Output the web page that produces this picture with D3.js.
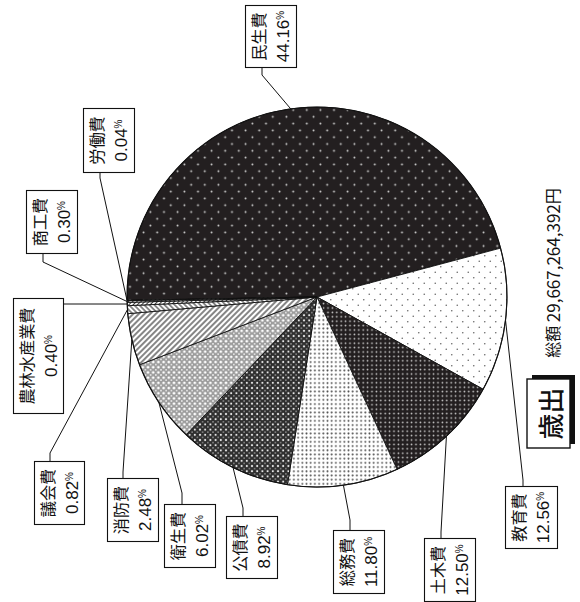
<!DOCTYPE html>
<html><head><meta charset="utf-8">
<script src="https://cdn.jsdelivr.net/npm/d3@7"></script>
<style>
html,body{margin:0;padding:0;background:#fff;}
svg{display:block;}
</style></head>
<body>
<svg id="chart" width="580" height="602"></svg>
<script>
// ---- data ----
const categories = ["民生費","教育費","土木費","総務費","公債費","衛生費","消防費","議会費","農林水産業費","商工費","労働費"];
const pctLabels  = ["44.16","12.56","12.50","11.80","8.92","6.02","2.48","0.82","0.40","0.30","0.04"];
// share of the circle each slice occupies as printed in the figure (percent of 360°)
const sliceShares = [46.1, 12.2, 10.0, 9.4, 9.6, 7.1, 4.4, 0.67, 0.28, 0.14, 0.03];
const titleText = "歳出";
const totalText = "総額 29,667,264,392円";

// ---- layout (screen px) ----
const cx = 317, cy = 297, R = 190;
const boxes = [
 {x:245,y:5,  w:51,h:62, lx:262,ly:67, ex:262,ey:75},
 {x:505,y:486,w:52,h:62, lx:523,ly:486,ex:523,ey:480},
 {x:424,y:538,w:51,h:63, lx:441,ly:538,ex:441,ey:532},
 {x:333,y:530,w:51,h:63, lx:350,ly:530,ex:350,ey:520},
 {x:226,y:516,w:51,h:62, lx:243,ly:516,ex:243,ey:508},
 {x:164,y:504,w:51,h:63, lx:182,ly:504,ex:182,ey:493},
 {x:107,y:478,w:51,h:63, lx:123,ly:478,ex:123,ey:472},
 {x:34, y:461,w:50,h:63, lx:50, ly:461,ex:50, ey:453},
 {x:13, y:298,w:50,h:115,lx:63, ly:304,ex:63, ey:304},
 {x:26, y:190,w:51,h:63, lx:43, ly:253,ex:43, ey:262},
 {x:83, y:108,w:51,h:64, lx:100,ly:172,ex:100,ey:178}
];
const fills = ["p-minsei","p-kyoiku","p-doboku","p-somu","p-kosai","p-eisei","p-shobo","p-gikai","p-norin","p-shoko","p-rodo"];

const svg = d3.select("#chart");
const defs = svg.append("defs");

function dots(id, s, bg, col, r, staggered){
  const p = defs.append("pattern").attr("id",id).attr("patternUnits","userSpaceOnUse")
    .attr("width",s).attr("height",s);
  p.append("rect").attr("width",s).attr("height",s).attr("fill",bg);
  if(staggered){
    [[s/4,s/4],[3*s/4,3*s/4]].forEach(([x,y])=>p.append("circle").attr("cx",x).attr("cy",y).attr("r",r).attr("fill",col));
  } else {
    p.append("circle").attr("cx",s/2).attr("cy",s/2).attr("r",r).attr("fill",col);
  }
  return p;
}
function hatch(id, s, angle, col, w){
  const p = defs.append("pattern").attr("id",id).attr("patternUnits","userSpaceOnUse")
    .attr("width",s).attr("height",s).attr("patternTransform",`rotate(${angle})`);
  p.append("rect").attr("width",s).attr("height",s).attr("fill","#fff");
  p.append("line").attr("x1",s/2).attr("y1",0).attr("x2",s/2).attr("y2",s).attr("stroke",col).attr("stroke-width",w);
}
dots("p-minsei",13.6,"#231f20","#d6d6d6",0.95,true);
dots("p-kyoiku",11,"#ffffff","#6a6a6a",0.8,true);
dots("p-doboku",4.4,"#231f20","#d0d0d0",0.85,false);
dots("p-somu",4.2,"#ffffff","#555",0.95,false);
(function(){
  const s=5.2, p=defs.append("pattern").attr("id","p-kosai").attr("patternUnits","userSpaceOnUse").attr("width",s).attr("height",s);
  p.append("rect").attr("width",s).attr("height",s).attr("fill","#2e2e2e");
  p.append("circle").attr("cx",s/2).attr("cy",s/2).attr("r",1.1).attr("fill","#e6e6e6");
  [[0,0],[s,0],[0,s],[s,s]].forEach(([x,y])=>p.append("circle").attr("cx",x).attr("cy",y).attr("r",0.8).attr("fill","#9a9a9a"));
})();
(function(){
  const s=5.2, p=defs.append("pattern").attr("id","p-eisei").attr("patternUnits","userSpaceOnUse").attr("width",s).attr("height",s);
  p.append("rect").attr("width",s).attr("height",s).attr("fill","#9c9c9c");
  p.append("circle").attr("cx",s/2).attr("cy",s/2).attr("r",1.4).attr("fill","#fff");
  [[0,0],[s,0],[0,s],[s,s]].forEach(([x,y])=>p.append("circle").attr("cx",x).attr("cy",y).attr("r",0.9).attr("fill","#f4f4f4"));
})();
hatch("p-shobo",4,45,"#222",1.1);
hatch("p-gikai",3.6,-45,"#222",1.0);
hatch("p-norin",3,45,"#222",0.9);
hatch("p-shoko",3,-45,"#222",0.9);
hatch("p-rodo",3,45,"#222",0.9);

// ---- pie ----
const rad = d => d*Math.PI/180;
const pie = d3.pie().sort(null).value(d=>d).startAngle(rad(-91)).endAngle(rad(269));
const arcs = pie(sliceShares);
const arc = d3.arc().innerRadius(0).outerRadius(R);
const edge = d3.arc().innerRadius(R).outerRadius(R);

const g = svg.append("g").attr("transform",`translate(${cx},${cy})`);
g.selectAll("path.slice").data(arcs).join("path").attr("class","slice")
  .attr("d",arc).attr("fill",(d,i)=>`url(#${fills[i]})`)
  .attr("stroke","#111").attr("stroke-width",0.9).attr("stroke-linejoin","round");
g.append("circle").attr("r",R).attr("fill","none").attr("stroke","#111").attr("stroke-width",1.1);

// ---- leaders and label boxes ----
const lab = svg.append("g");
arcs.forEach((d,i)=>{
  const b = boxes[i];
  const [px,py] = edge.centroid(d);
  lab.append("polyline")
    .attr("points",`${b.lx},${b.ly} ${b.ex},${b.ey} ${cx+px},${cy+py}`)
    .attr("fill","none").attr("stroke","#111").attr("stroke-width",1);
  lab.append("rect").attr("x",b.x+0.5).attr("y",b.y+0.5).attr("width",b.w).attr("height",b.h)
    .attr("fill","#fff").attr("stroke","#111").attr("stroke-width",1.1);
  const my = b.y + b.h/2 + 0.5;
  const k1x = b.x + 13, k2x = b.x + 37.5;
  lab.append("text").attr("x",k1x).attr("y",my)
    .attr("transform",`rotate(-90,${k1x},${my})`)
    .attr("text-anchor","middle").attr("dominant-baseline","central")
    .attr("font-family","'Noto Sans CJK JP','Noto Sans CJK SC',sans-serif")
    .attr("font-size",16.2).attr("fill","#111").text(categories[i]);
  const t = lab.append("text").attr("x",k2x).attr("y",my)
    .attr("transform",`rotate(-90,${k2x},${my})`)
    .attr("text-anchor","middle").attr("dominant-baseline","central")
    .attr("font-family","'Liberation Sans Narrow','Arial Narrow','Liberation Sans',sans-serif")
    .attr("font-size",17).attr("fill","#111");
  t.append("tspan").text(pctLabels[i]);
  t.append("tspan").attr("font-size",10).attr("dy",-3).text("%");
});

// ---- title box with shadow ----
const tb = {x:527,y:379,w:43,h:69};
svg.append("rect").attr("x",tb.x+5).attr("y",tb.y-4).attr("width",tb.w).attr("height",tb.h).attr("fill","#111");
svg.append("rect").attr("x",tb.x).attr("y",tb.y).attr("width",tb.w).attr("height",tb.h)
  .attr("fill","#fff").attr("stroke","#111").attr("stroke-width",1.4);
const tx = tb.x + tb.w/2 + 1, ty = tb.y + tb.h/2;
svg.append("text").attr("x",tx).attr("y",ty).attr("transform",`rotate(-90,${tx},${ty})`)
  .attr("text-anchor","middle").attr("dominant-baseline","central")
  .attr("font-family","'Noto Sans CJK JP',sans-serif").attr("font-size",26).attr("font-weight",500)
  .attr("fill","#111").text(titleText);

const ax = 552, ay = 273;
const tt = svg.append("text").attr("x",ax).attr("y",ay).attr("transform",`rotate(-90,${ax},${ay})`)
  .attr("text-anchor","middle").attr("dominant-baseline","central")
  .attr("font-family","'Liberation Sans Narrow','Noto Sans CJK JP',sans-serif")
  .attr("font-size",17).attr("fill","#111");
const parts = totalText.split(" ");
tt.append("tspan").attr("font-family","'Noto Sans CJK JP',sans-serif").attr("font-size",16).text(parts[0]+" ");
tt.append("tspan").text(parts[1].replace("円",""));
tt.append("tspan").attr("font-family","'Noto Sans CJK JP',sans-serif").attr("font-size",16).text("円");
</script>
</body></html>
